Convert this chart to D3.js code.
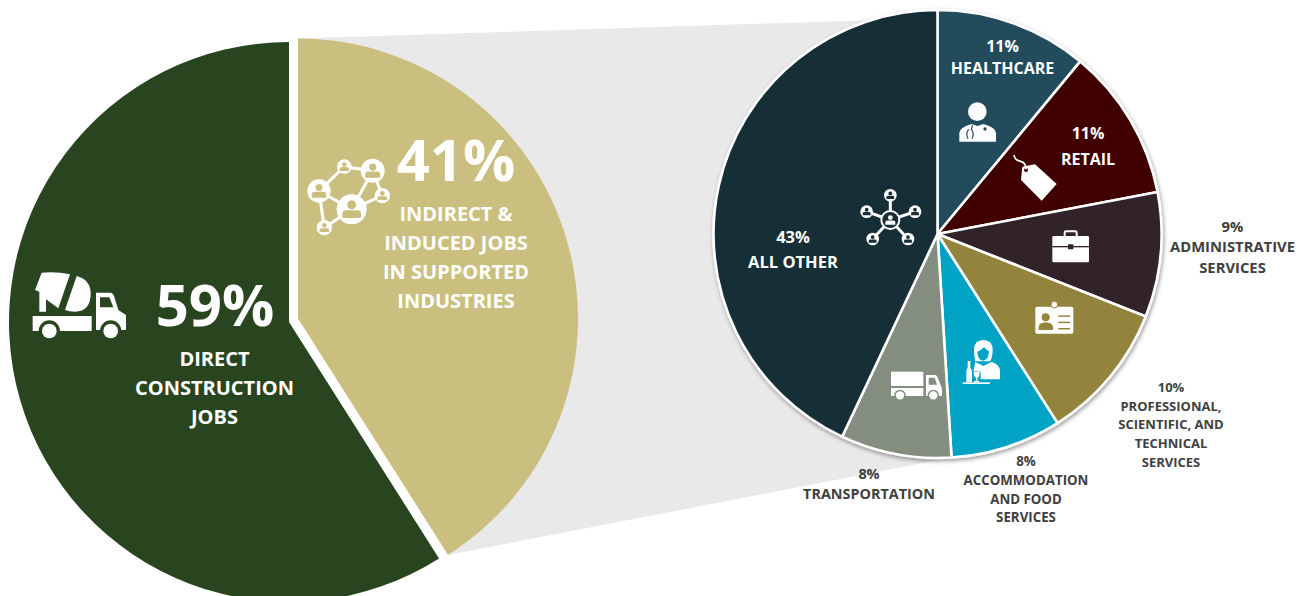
<!DOCTYPE html>
<html>
<head>
<meta charset="utf-8">
<script src="https://cdn.jsdelivr.net/npm/d3@7"></script>
<style>
  html, body { margin: 0; padding: 0; background: #fff; }
  svg { display: block; }
  text { font-family: "Open Sans", sans-serif; text-anchor: middle; }
</style>
</head>
<body>
<svg id="chart" width="1312" height="596"></svg>
<script>
// Share of jobs by type
const jobTypes = ["INDIRECT & INDUCED JOBS IN SUPPORTED INDUSTRIES", "DIRECT CONSTRUCTION JOBS"];
const jobShares = [41, 59];
const jobColors = ["#CBBF80", "#284520"];

// Breakdown of the indirect and induced share by industry
const industries = ["HEALTHCARE", "RETAIL", "ADMINISTRATIVE SERVICES", "PROFESSIONAL, SCIENTIFIC, AND TECHNICAL SERVICES", "ACCOMMODATION AND FOOD SERVICES", "TRANSPORTATION", "ALL OTHER"];
const industryShares = [11, 11, 9, 10, 8, 8, 43];
const industryColors = ["#234B5B", "#3F0000", "#30232B", "#93843C", "#00A3C4", "#838E81", "#182D36"];

const svg = d3.select("#chart");
const defs = svg.append("defs");
const shadow = defs.append("filter").attr("id", "pieShadow")
  .attr("x", "-5%").attr("y", "-5%").attr("width", "110%").attr("height", "110%");
shadow.append("feDropShadow").attr("dx", 1).attr("dy", 2).attr("stdDeviation", 2)
  .attr("flood-color", "#000").attr("flood-opacity", 0.4);

const pie = d3.pie().sort(null).value(d => d);
const jobArcs = pie(jobShares);
const industryArcs = pie(industryShares);

const goldCentre = [298, 318.5], greenCentre = [289, 322], jobRadius = 280;
const rightCentre = [937.5, 234], rightRadius = 224;
const onCircle = (c, r, a) => [c[0] + r * Math.sin(a), c[1] - r * Math.cos(a)];

// Connector band between the gold slice and the breakdown pie
svg.append("path")
  .attr("fill", "#E9E9E9")
  .attr("d", d3.line()([
    onCircle(goldCentre, jobRadius, jobArcs[0].startAngle),
    onCircle(rightCentre, rightRadius - 8, 0),
    onCircle(rightCentre, rightRadius, industryArcs[4].endAngle),
    onCircle(goldCentre, jobRadius, jobArcs[0].endAngle)
  ]) + "Z");

// Left pie: each slice has its own centre, which opens the white gap
const jobArc = d3.arc().innerRadius(0).outerRadius(jobRadius);
svg.selectAll("path.job").data(jobArcs).join("path")
  .attr("class", "job")
  .attr("transform", (d, i) => `translate(${i === 0 ? goldCentre : greenCentre})`)
  .attr("fill", (d, i) => jobColors[i])
  .attr("d", jobArc);

// Right pie
const industryArc = d3.arc().innerRadius(0).outerRadius(rightRadius);
svg.append("g")
  .attr("transform", `translate(${rightCentre})`)
  .attr("filter", "url(#pieShadow)")
  .selectAll("path").data(industryArcs).join("path")
  .attr("fill", (d, i) => industryColors[i])
  .attr("stroke", "#fff").attr("stroke-width", 2.6).attr("stroke-linejoin", "round")
  .attr("d", industryArc);

// Text helper: the first line is the share, the rest are wrapped name lines
function block(x, ys, lines, size, fill, weight) {
  const g = svg.append("g").attr("fill", fill).attr("font-size", size).attr("font-weight", weight || 700);
  lines.forEach((t, i) => g.append("text").attr("x", x).attr("y", ys[i]).text(t));
}
const pct = v => `${v}%`;

svg.append("text").attr("x", 215).attr("y", 326).attr("fill", "#fff").attr("font-size", 58).attr("font-weight", 700).text(pct(jobShares[1]));
block(214.5, [366, 395, 424], ["DIRECT", "CONSTRUCTION", "JOBS"], 20, "#fff");
svg.append("text").attr("x", 456).attr("y", 181).attr("fill", "#fff").attr("font-size", 58).attr("font-weight", 700).text(pct(jobShares[0]));
block(456, [221, 250, 279, 308], ["INDIRECT &", "INDUCED JOBS", "IN SUPPORTED", "INDUSTRIES"], 20, "#fff");

block(1002.5, [51.5, 74], [pct(industryShares[0]), "HEALTHCARE"], 16, "#fff");
block(1088, [138.5, 165], [pct(industryShares[1]), "RETAIL"], 16, "#fff");
block(1232.5, [231.5, 252, 272.5], [pct(industryShares[2]), "ADMINISTRATIVE", "SERVICES"], 14.8, "#404040");
block(1171, [391.5, 410.5, 429, 448, 466.5], [pct(industryShares[3]), "PROFESSIONAL,", "SCIENTIFIC, AND", "TECHNICAL", "SERVICES"], 13, "#404040");
block(1026, [466, 485, 503.5, 522], [pct(industryShares[4]), "ACCOMMODATION", "AND FOOD", "SERVICES"], 13.3, "#404040");
block(869, [479, 499], [pct(industryShares[5]), "TRANSPORTATION"], 14.4, "#404040");
block(793, [243, 268], [pct(industryShares[6]), "ALL OTHER"], 16.5, "#fff");

// Pictograms, each drawn in its own 3x grid
function icon(x, y) {
  return svg.append("g").attr("transform", `translate(${x},${y}) scale(${1 / 3})`).attr("fill", "#fff");
}
function person(g, cx, cy, r, fill) {
  g.append("circle").attr("cx", cx).attr("cy", cy - r * 0.3).attr("r", r * 0.3).attr("fill", fill);
  g.append("path").attr("fill", fill).attr("d",
    `M${cx - r * 0.62},${cy + r * 0.58} v${-r * 0.3} q0,${-r * 0.22} ${r * 0.25},${-r * 0.22} h${r * 0.74} q${r * 0.25},0 ${r * 0.25},${r * 0.22} v${r * 0.3} Z`);
}

// Mixer truck
{
  const g = icon(20, 260), bg = jobColors[1];
  g.append("path").attr("d", "M45,90 L65,38 Q110,34 150,43 L115,145 L78,118 L78,155 L58,155 L58,95 Z");
  g.append("path").attr("d", "M170,48 Q212,60 212,100 Q212,155 165,155 Q148,155 135,150 Z");
  g.append("rect").attr("x", 38).attr("y", 168).attr("width", 177).attr("height", 45);
  g.append("path").attr("d", "M228,98 H270 Q278,98 282,108 L295,150 L318,165 V210 H228 Z");
  g.append("path").attr("fill", bg).attr("d", "M240,112 H268 L280,142 H240 Z");
  [88, 272].forEach(cx => {
    g.append("circle").attr("cx", cx).attr("cy", 213).attr("r", 32).attr("fill", bg);
    g.append("circle").attr("cx", cx).attr("cy", 213).attr("r", 22);
  });
}

// Linked people network
{
  const g = icon(295, 130), bg = jobColors[0];
  const nodes = [[72, 183, 35], [148, 110, 22], [233, 122, 36], [262, 197, 23], [170, 238, 45], [88, 293, 23]];
  const links = [[0, 1], [1, 2], [2, 4], [3, 4], [2, 3], [0, 4], [0, 5], [4, 5]];
  links.forEach(([a, b]) => g.append("line")
    .attr("x1", nodes[a][0]).attr("y1", nodes[a][1]).attr("x2", nodes[b][0]).attr("y2", nodes[b][1])
    .attr("stroke", "#fff").attr("stroke-width", 9));
  nodes.forEach(([cx, cy, r]) => {
    g.append("circle").attr("cx", cx).attr("cy", cy).attr("r", r);
    person(g, cx, cy, r, bg);
  });
}

// Doctor
{
  const g = icon(940, 0), bg = industryColors[0];
  g.append("circle").attr("cx", 112).attr("cy", 335).attr("r", 28);
  g.append("path").attr("d", "M58,425 V398 Q60,382 95,372 L113,378 L130,372 Q166,382 168,398 V425 Z");
  g.append("path").attr("fill", "none").attr("stroke", bg).attr("stroke-width", 3.5).attr("d", "M84,416 Q76,400 86,388 M96,416 Q104,400 94,388 L98,375");
  g.append("circle").attr("cx", 135).attr("cy", 387).attr("r", 5).attr("fill", bg);
}

// Price tag
{
  const g = icon(940, 0);
  g.append("path").attr("d", "M247,500 L285,493 L350,552 L305,602 L243,540 Z");
  g.append("circle").attr("cx", 258).attr("cy", 510).attr("r", 6).attr("fill", industryColors[1]);
  g.append("path").attr("fill", "none").attr("stroke", "#fff").attr("stroke-width", 5).attr("d", "M222,465 Q224,482 242,484 Q258,488 258,508");
}

// Briefcase
{
  const g = icon(940, 0), bg = industryColors[2];
  g.append("rect").attr("x", 337).attr("y", 708).attr("width", 110).attr("height", 79).attr("rx", 4);
  g.append("rect").attr("x", 374).attr("y", 694).attr("width", 36).attr("height", 20).attr("rx", 4).attr("fill", "none").attr("stroke", "#fff").attr("stroke-width", 6);
  g.append("rect").attr("x", 337).attr("y", 738).attr("width", 110).attr("height", 4).attr("fill", bg);
  g.append("rect").attr("x", 384).attr("y", 733).attr("width", 16).attr("height", 15).attr("rx", 2).attr("fill", bg);
}

// ID badge
{
  const g = icon(790, 300), bg = industryColors[3];
  g.append("rect").attr("x", 736).attr("y", 20).attr("width", 114).attr("height", 81).attr("rx", 5);
  g.append("circle").attr("cx", 793).attr("cy", 14).attr("r", 10).attr("stroke", bg).attr("stroke-width", 3);
  g.append("circle").attr("cx", 767).attr("cy", 52).attr("r", 12).attr("fill", bg);
  g.append("path").attr("fill", bg).attr("d", "M746,90 V80 Q748,68 767,67 Q786,68 789,80 V90 Z");
  [48, 67, 86].forEach(y => g.append("rect").attr("x", 805).attr("y", y - 2).attr("width", 35).attr("height", 4.5).attr("fill", bg));
}

// Server with bottle and glass
{
  const g = icon(790, 300), bg = industryColors[4];
  g.append("path").attr("d", "M552,150 Q552,120 580,120 Q608,120 608,150 Q608,172 600,184 L556,184 Q552,170 552,150 Z");
  g.append("path").attr("fill", bg).attr("d", "M562,155 Q572,152 582,142 Q590,150 597,154 Q596,180 579,182 Q563,180 562,155 Z");
  g.append("path").attr("d", "M556,186 L580,198 L604,186 Q628,192 630,212 V238 H572 L572,215 L550,214 Z");
  g.append("path").attr("d", "M533,183 H541 V203 L546,212 V246 H529 V212 L533,203 Z");
  g.append("path").attr("d", "M551,216 H569 Q569,232 562,233 V243 H568 V247 H552 V243 H558 V233 Q551,232 551,216 Z");
  g.append("rect").attr("x", 518).attr("y", 247).attr("width", 82).attr("height", 5);
}

// Delivery truck
{
  const g = icon(790, 300), bg = industryColors[5];
  g.append("rect").attr("x", 303).attr("y", 215).attr("width", 97).attr("height", 43);
  g.append("rect").attr("x", 303).attr("y", 264).attr("width", 97).attr("height", 24);
  g.append("path").attr("d", "M408,225 H434 Q440,225 443,232 L452,256 Q456,262 456,272 V288 H408 Z");
  g.append("path").attr("fill", bg).attr("d", "M416,233 H434 L441,254 H416 Z");
  [330, 430].forEach(cx => {
    g.append("circle").attr("cx", cx).attr("cy", 286).attr("r", 17).attr("fill", bg);
    g.append("circle").attr("cx", cx).attr("cy", 286).attr("r", 12.5);
  });
}

// Hub of people
{
  const g = icon(700, 0), bg = industryColors[6];
  const hub = [571, 660];
  const spokes = [[571, 586], [645, 635], [624, 717], [518, 717], [500, 635]];
  spokes.forEach(([x, y]) => g.append("line").attr("x1", hub[0]).attr("y1", hub[1]).attr("x2", x).attr("y2", y)
    .attr("stroke", "#fff").attr("stroke-width", 9));
  spokes.forEach(([x, y]) => {
    g.append("circle").attr("cx", x).attr("cy", y).attr("r", 19);
    person(g, x, y, 19, bg);
  });
  g.append("circle").attr("cx", hub[0]).attr("cy", hub[1]).attr("r", 30);
  g.append("circle").attr("cx", hub[0]).attr("cy", hub[1]).attr("r", 24).attr("fill", bg);
  person(g, hub[0], hub[1], 24, "#fff");
}
</script>
</body>
</html>
